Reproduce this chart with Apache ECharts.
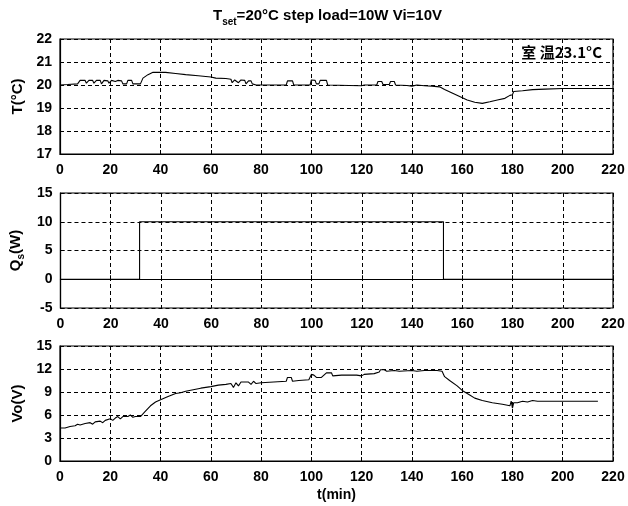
<!DOCTYPE html>
<html>
<head>
<meta charset="utf-8">
<title>Step load response</title>
<script src="https://cdn.jsdelivr.net/npm/echarts@6/dist/echarts.min.js"></script>
<style>
  html, body { margin: 0; padding: 0; background: #fff; }
  #chart { width: 628px; height: 506px; }
</style>
</head>
<body>
<div id="chart"></div>
<script>
// Time axis (minutes), shared by all three panels
const timeTicks = [0, 20, 40, 60, 80, 100, 120, 140, 160, 180, 200, 220];

// Panel 1: temperature T (°C) vs time, [t, T]
const temperature = [
  [0, 20.0], [3, 20.02], [7, 20.05], [8, 20.2], [10, 20.2], [10.5, 20.08], [11.5, 20.2],
  [13, 20.2], [13.5, 20.08], [14.5, 20.2], [16, 20.2], [16.5, 20.05], [17.5, 20.2],
  [19, 20.18], [19.5, 20.08], [20.5, 20.2], [22, 20.15], [23, 20.2], [24.5, 20.18],
  [25, 20.05], [26.5, 20.05], [27, 20.2], [28.5, 20.2], [29, 20.05], [32, 20.05],
  [33, 20.3], [35, 20.45], [37, 20.55], [42, 20.55], [46, 20.5], [50, 20.45],
  [55, 20.4], [60, 20.35], [62, 20.3], [66, 20.28], [68, 20.25], [68.5, 20.1],
  [69.5, 20.22], [71, 20.1], [72, 20.22], [73.5, 20.2], [74, 20.05], [75, 20.18],
  [76, 20.18], [76.5, 20.05], [78, 20.0], [90, 20.0], [90.5, 20.18], [92.5, 20.18],
  [93, 20.0], [99.5, 20.0], [100, 20.22], [101.5, 20.2], [102, 20.05], [103, 20.05],
  [103.5, 20.2], [106, 20.2], [106.5, 20.0], [115, 19.98], [120, 19.97], [121, 20.0],
  [126, 20.0], [126.5, 20.15], [128, 20.15], [128.5, 20.02], [131, 20.02], [131.5, 20.15],
  [133, 20.15], [133.5, 20.0], [138, 19.98], [140, 19.95], [142, 20.0], [145, 19.97],
  [148, 19.95], [151, 19.92], [153, 19.8], [156, 19.65], [159, 19.5], [162, 19.35],
  [165, 19.25], [168, 19.2], [171, 19.27], [174, 19.35], [177, 19.42], [179, 19.55],
  [180, 19.58], [180.5, 19.72], [184, 19.75], [188, 19.8], [193, 19.82], [200, 19.85],
  [220, 19.85]
];

// Panel 2: step load Qs (W) vs time, [t, Qs]
const heatLoad = [
  [0, 0], [31.5, 0], [31.5, 10], [152.5, 10], [152.5, 0], [220, 0]
];

// Panel 3: control voltage Vo (V) vs time, [t, Vo]
const voltage = [
  [0, 4.3], [2, 4.3], [4, 4.5], [6, 4.6], [7, 4.8], [8, 4.7], [10, 4.9], [12, 5.0],
  [13, 4.8], [14, 5.1], [16, 5.2], [17, 5.0], [18, 5.3], [20, 5.5], [21, 5.3],
  [22, 5.6], [23, 5.8], [24, 5.5], [25, 5.8], [27, 5.8], [28, 6.0], [29, 5.7],
  [30, 5.8], [32, 5.8], [34, 6.5], [36, 7.2], [38, 7.7], [40, 8.0], [43, 8.4],
  [46, 8.8], [48, 8.9], [50, 9.1], [53, 9.3], [56, 9.5], [60, 9.7], [63, 9.9],
  [66, 10.0], [68, 10.1], [69, 9.6], [70, 10.2], [71, 9.8], [72, 10.3], [75, 10.3],
  [76, 10.0], [77, 10.4], [78, 10.1], [80, 10.2], [85, 10.3], [90, 10.4], [90.5, 10.9],
  [92, 10.9], [92.5, 10.4], [95, 10.5], [99, 10.6], [100, 11.3], [101, 11.2],
  [102, 10.9], [104, 10.9], [105, 11.2], [106, 11.5], [108, 11.5], [108.5, 11.1],
  [112, 11.2], [118, 11.2], [120, 11.1], [121, 11.3], [125, 11.4], [127, 11.6],
  [127.5, 11.9], [129, 11.9], [130, 11.7], [133, 11.8], [135, 11.7], [140, 11.8],
  [142, 11.7], [145, 11.8], [150, 11.8], [152, 11.7], [153, 11.0], [155, 10.5],
  [158, 9.8], [160, 9.2], [163, 8.6], [165, 8.2], [168, 7.9], [172, 7.6], [176, 7.4],
  [179, 7.2], [179.5, 7.8], [180, 6.9], [180.5, 7.6], [182, 7.6], [184, 7.8],
  [186, 7.7], [188, 7.9], [190, 7.8], [195, 7.8], [214, 7.8]
];

// Y-axis ranges per panel: [min, max, interval]
const tempRange = [17, 22, 1];
const loadRange = [-5, 15, 5];
const voltRange = [0, 15, 3];

const FONT = '"Liberation Sans", Arial, Helvetica, sans-serif';
const CJK = '"Noto Sans CJK SC", "Liberation Sans", sans-serif';

const chart = echarts.init(document.getElementById('chart'), null, { renderer: 'canvas' });

// Three stacked panels of equal height
const grids = [
  { left: 60, right: 15, top: 39, height: 115 },
  { left: 60, right: 15, top: 193, height: 115 },
  { left: 60, right: 15, top: 346, height: 115 }
];

const dash = { color: '#000', width: 1, type: [4, 3] };
const labelStyle = { color: '#000', fontFamily: FONT, fontWeight: 'bold', fontSize: 14 };

function xAxisFor(i, name) {
  return {
    type: 'value', gridIndex: i, min: timeTicks[0], max: timeTicks[timeTicks.length - 1],
    interval: timeTicks[1] - timeTicks[0],
    axisLine: { show: true, lineStyle: { color: '#000', width: 1.2 } },
    axisTick: { show: true, inside: true, length: 4, lineStyle: { color: '#000' } },
    axisLabel: Object.assign({ margin: 9 }, labelStyle),
    splitLine: { show: true, lineStyle: dash },
    name: name || '', nameLocation: 'middle', nameGap: 27,
    nameTextStyle: { color: '#000', fontFamily: FONT, fontWeight: 'bold', fontSize: 14 }
  };
}

function yAxisFor(i, range, name, rich) {
  return {
    type: 'value', gridIndex: i, min: range[0], max: range[1], interval: range[2],
    axisLine: { show: true, lineStyle: { color: '#000', width: 1.2 } },
    axisTick: { show: true, inside: true, length: 4, lineStyle: { color: '#000' } },
    axisLabel: Object.assign({ margin: 8 }, labelStyle),
    splitLine: { show: true, lineStyle: dash },
    name: name, nameLocation: 'middle', nameGap: 31, nameRotate: 90,
    nameTextStyle: Object.assign({ color: '#000', fontFamily: FONT, fontWeight: 'bold', fontSize: 15 },
      rich ? { rich: rich } : {})
  };
}

const subRich = {
  n: { fontFamily: FONT, fontWeight: 'bold', fontSize: 15, color: '#000', verticalAlign: 'top' },
  s: { fontFamily: FONT, fontWeight: 'bold', fontSize: 10, color: '#000', verticalAlign: 'top', padding: [8, 0, 0, 0] }
};

function lineSeries(i, data) {
  return {
    type: 'line', xAxisIndex: i, yAxisIndex: i, data: data,
    showSymbol: false, symbol: 'none', animation: false,
    lineStyle: { color: '#000', width: 1.1 }
  };
}

chart.setOption({
  backgroundColor: '#fff',
  animation: false,
  title: [{
    text: '{t|T}{s|set}{t|=20°C step load=10W Vi=10V}',
    left: 208, top: 3,
    textStyle: {
      rich: {
        t: { fontFamily: FONT, fontWeight: 'bold', fontSize: 15, color: '#000', verticalAlign: 'top' },
        s: { fontFamily: FONT, fontWeight: 'bold', fontSize: 10, color: '#000', verticalAlign: 'top', padding: [9, 0, 0, 0] }
      }
    }
  }],
  graphic: [{
    type: 'text', right: 26, top: 45,
    style: { text: '室 温23.1°C', fill: '#000', font: 'bold 15px ' + CJK }
  }],
  grid: grids.map(g => Object.assign({ show: true, borderColor: '#000', borderWidth: 1.2, backgroundColor: 'transparent' }, g)),
  xAxis: [xAxisFor(0), xAxisFor(1), xAxisFor(2, 't(min)')],
  yAxis: [
    yAxisFor(0, tempRange, 'T(°C)'),
    yAxisFor(1, loadRange, '{n|Q}{s|s}{n|(W)}', subRich),
    yAxisFor(2, voltRange, 'Vo(V)')
  ],
  series: [
    lineSeries(0, temperature),
    lineSeries(1, heatLoad),
    lineSeries(2, voltage)
  ]
});
</script>
</body>
</html>
